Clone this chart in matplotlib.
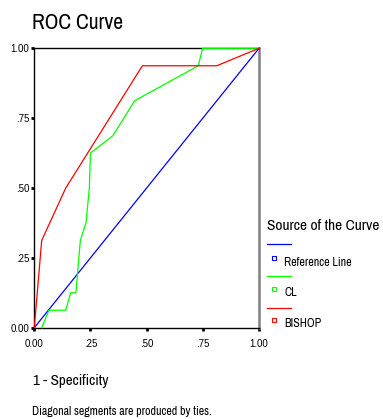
import matplotlib
matplotlib.use("Agg")
import matplotlib.pyplot as plt
from matplotlib import font_manager
from matplotlib.lines import Line2D

names = {f.name for f in font_manager.fontManager.ttflist}
FAM = "Liberation Sans"
for cand in ["Liberation Sans Narrow", "Arial Narrow", "Archivo Narrow", "Roboto Condensed"]:
    if cand in names:
        FAM = cand
        break
plt.rcParams["font.family"] = [FAM, "DejaVu Sans"]

ref_x = [0.0, 1.0]
ref_y = [0.0, 1.0]
cl_x = [0.033, 0.065, 0.14, 0.162, 0.185, 0.205, 0.23, 0.245, 0.25, 0.35, 0.447, 0.73, 0.749, 1.0]
cl_y = [0.0, 0.0625, 0.0625, 0.125, 0.125, 0.3125, 0.375, 0.5, 0.625, 0.6875, 0.8125, 0.9375, 1.0, 1.0]
bishop_x = [0.0, 0.033, 0.14, 0.481, 0.812, 1.0]
bishop_y = [0.0, 0.3125, 0.5, 0.9375, 0.9375, 1.0]
ticks = [0.0, 0.25, 0.5, 0.75, 1.0]
tick_labels = ["0.00", ".25", ".50", ".75", "1.00"]
series_names = ["Reference Line", "CL", "BISHOP"]
colors = ["#0000ff", "#00ff00", "#ff0000"]

W, H = 383, 419
fig = plt.figure(figsize=(W / 100, H / 100), dpi=100)
renderer = fig.canvas.get_renderer()


def fit_size(text, target_px, ref=10.0):
    t = fig.text(0, 0, text, fontsize=ref)
    w = t.get_window_extent(renderer).width
    t.remove()
    return ref * target_px / w


L, R, T, B = 34.3, 259.0, 48.3, 327.7
ax = fig.add_axes([L / W, 1 - B / H, (R - L) / W, (B - T) / H])

ax.plot(ref_x, ref_y, color=colors[0], lw=0.9, clip_on=False, zorder=3)
ax.plot(cl_x, cl_y, color=colors[1], lw=0.9, clip_on=False, zorder=3)
ax.plot(bishop_x, bishop_y, color=colors[2], lw=0.9, clip_on=False, zorder=3)

ax.set_xlim(0, 1)
ax.set_ylim(0, 1)
ax.set_xticks(ticks)
ax.set_xticklabels(tick_labels)
ax.set_yticks(ticks)
ax.set_yticklabels(tick_labels)
ax.tick_params(axis="both", direction="out", length=2, width=2, labelsize=7, color="black")
ax.tick_params(axis="x", pad=6)
ax.tick_params(axis="y", pad=1.5)
for lab in ax.get_xticklabels() + ax.get_yticklabels():
    lab.set_family(["Liberation Sans", "DejaVu Sans"])
for s in ["left", "top", "bottom"]:
    ax.spines[s].set_color("black")
    ax.spines[s].set_linewidth(1.0)
ax.spines["right"].set_color("#808080")
ax.spines["right"].set_linewidth(1.8)

fig.text(32 / W, 1 - 23 / H, "ROC Curve", fontsize=fit_size("ROC Curve", 92), ha="left", va="center")
fig.text(33.3 / W, 1 - 381 / H, "1 - Specificity", fontsize=fit_size("1 - Specificity", 76), ha="left", va="center")
note = "Diagonal segments are produced by ties."
fig.text(32.3 / W, 1 - 411 / H, note, fontsize=fit_size(note, 180), ha="left", va="center")

# legend
lt = "Source of the Curve"
fig.text(266.7 / W, 1 - 226 / H, lt, fontsize=fit_size(lt, 113), ha="left", va="center")
item_fs = fit_size("Reference Line", 68)
line_ys = [244.3, 275.7, 307.7]
sq_ys = [258.0, 288.8, 319.6]
txt_ys = [262.0, 293.0, 323.5]
for c, name, ly, sy, ty in zip(colors, series_names, line_ys, sq_ys, txt_ys):
    fig.add_artist(Line2D([266.7 / W, 291 / W], [1 - ly / H, 1 - ly / H], color=c, lw=0.9))
    fig.add_artist(Line2D([274 / W], [1 - sy / H], marker="s", markersize=3.2, markerfacecolor="white",
                          markeredgecolor=c, markeredgewidth=0.8, linestyle="none"))
    fig.text(284.3 / W, 1 - ty / H, name, fontsize=item_fs, ha="left", va="center")

fig.savefig("out.png", dpi=100)
